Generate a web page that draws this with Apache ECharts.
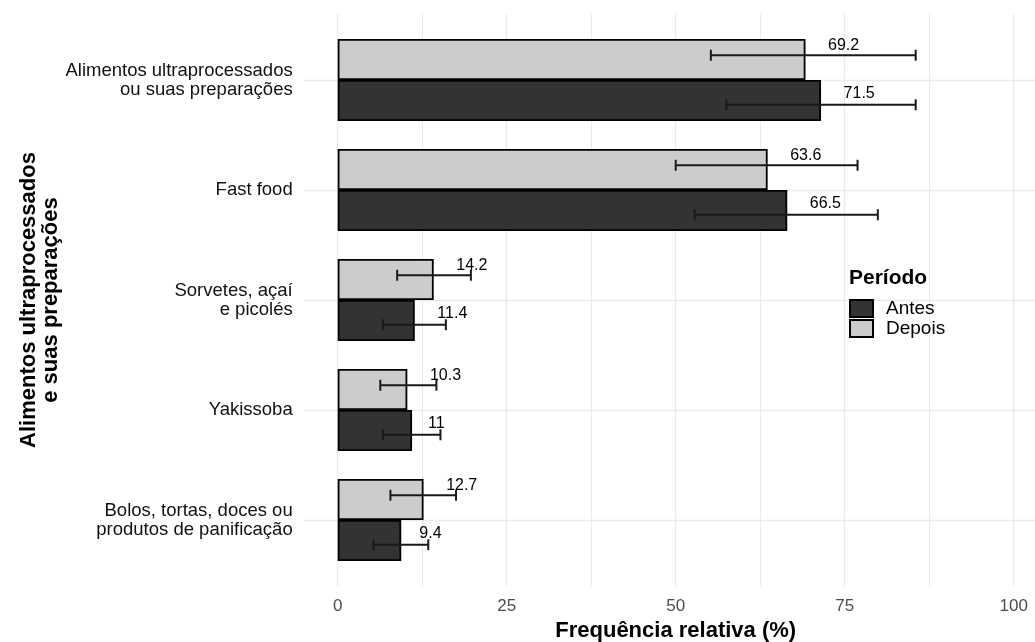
<!DOCTYPE html>
<html><head><meta charset="utf-8">
<script src="https://cdn.jsdelivr.net/npm/echarts@6/dist/echarts.min.js"></script>
<style>html,body{margin:0;padding:0;background:#fff}#c{width:1035px;height:642px}</style>
</head><body><div id="c"></div>
<script>
const categories = ['Alimentos ultraprocessados\nou suas preparações', 'Fast food', 'Sorvetes, açaí\ne picolés', 'Yakissoba', 'Bolos, tortas, doces ou\nprodutos de panificação'];
const antes = [71.5, 66.5, 11.4, 11, 9.4];
const depois = [69.2, 63.6, 14.2, 10.3, 12.7];
const antesLow = [57.5, 52.8, 6.7, 6.7, 5.3];
const antesHigh = [85.5, 79.9, 16.0, 15.2, 13.4];
const depoisLow = [55.2, 50.0, 8.8, 6.3, 7.8];
const depoisHigh = [85.5, 76.9, 19.7, 14.6, 17.5];
const xTicks = [0, 25, 50, 75, 100];

const FONT = '"Liberation Sans", Arial, sans-serif';
const chart = echarts.init(document.getElementById('c'));

function labelDist(v) {
  let w = 0;
  for (const ch of String(v)) w += ch === '.' ? 4.45 : 8.9;
  return 7 + w / 2;
}
function barData(vals) {
  return vals.map(v => ({ value: v, label: { distance: labelDist(v) } }));
}
function errData(lo, hi) {
  return lo.map((l, i) => [i, l, hi[i]]);
}
function errRender(offset) {
  return function (params, api) {
    const c = api.value(0);
    const a = api.coord([api.value(1), c]);
    const b = api.coord([api.value(2), c]);
    const y = a[1] + offset, h = 5.5;
    const st = { stroke: '#1a1a1a', lineWidth: 2 };
    return { type: 'group', children: [
      { type: 'line', shape: { x1: a[0], y1: y, x2: b[0], y2: y }, style: st },
      { type: 'line', shape: { x1: a[0], y1: y - h, x2: a[0], y2: y + h }, style: st },
      { type: 'line', shape: { x1: b[0], y1: y - h, x2: b[0], y2: y + h }, style: st }
    ]};
  };
}
const gridColor = '#EBEBEB';
const option = {
  backgroundColor: '#fff',
  animation: false,
  title: { text: 'Período', left: 849, top: 268, padding: 0,
    textStyle: { fontFamily: FONT, fontSize: 21, fontWeight: 'bold', color: '#000' } },
  legend: {
    data: ['Antes', 'Depois'], orient: 'vertical', left: 849, top: 299, padding: 0,
    itemWidth: 23, itemHeight: 17, itemGap: 1, icon: 'rect',
    textStyle: { fontFamily: FONT, fontSize: 19, color: '#000', lineHeight: 17, padding: [0, 0, 0, 8] }
  },
  graphic: [{
    type: 'text', x: 40, y: 300, rotation: Math.PI / 2,
    style: { text: 'Alimentos ultraprocessados\ne suas preparações', align: 'center', verticalAlign: 'middle',
      font: 'bold 22px ' + FONT, lineHeight: 22, fill: '#000' }
  }],
  grid: [
    { left: 337.7, width: 676, top: 14, height: 572, outerBoundsMode: 'none', containLabel: false },
    { left: 304, width: 731, top: 80, height: 440, outerBoundsMode: 'none', containLabel: false },
    { left: 337.7, width: 676, top: 25, height: 550, outerBoundsMode: 'none', containLabel: false }
  ],
  xAxis: [
    { gridIndex: 0, type: 'value', min: xTicks[0], max: xTicks[xTicks.length - 1], interval: xTicks[1] - xTicks[0],
      axisLine: { show: false }, axisTick: { show: false },
      minorTick: { show: false, splitNumber: 2 },
      splitLine: { show: true, lineStyle: { color: gridColor, width: 1.3 } },
      minorSplitLine: { show: true, lineStyle: { color: gridColor, width: 1 } },
      axisLabel: { margin: 12, color: '#4D4D4D', fontSize: 17, fontFamily: FONT },
      name: 'Frequência relativa (%)', nameLocation: 'middle', nameGap: 34,
      nameTextStyle: { fontFamily: FONT, fontSize: 22, fontWeight: 'bold', color: '#000' } },
    { gridIndex: 1, type: 'value', show: false, min: 0, max: 1 },
    { gridIndex: 2, type: 'value', show: false, min: 0, max: 100 }
  ],
  yAxis: [
    { gridIndex: 0, type: 'value', show: false },
    { gridIndex: 1, type: 'value', min: 0, max: categories.length - 1, interval: 1,
      axisLine: { show: false }, axisTick: { show: false }, axisLabel: { show: false },
      splitLine: { show: true, lineStyle: { color: gridColor, width: 1.3 } } },
    { gridIndex: 2, type: 'category', data: categories, inverse: true,
      axisLine: { show: false }, axisTick: { show: false }, splitLine: { show: false },
      axisLabel: { margin: 45, color: '#111', fontSize: 18.5, fontFamily: FONT, lineHeight: 19, align: 'right' } }
  ],
  series: [
    { name: 'Depois', type: 'bar', xAxisIndex: 2, yAxisIndex: 2, data: barData(depois),
      barWidth: 41, barGap: '0%', z: 2,
      itemStyle: { color: '#CCCCCC', borderColor: '#000', borderWidth: 1.8 },
      label: { show: true, position: 'right', offset: [0, -14], formatter: p => String(p.value),
        fontFamily: FONT, fontSize: 16, color: '#000' } },
    { name: 'Antes', type: 'bar', xAxisIndex: 2, yAxisIndex: 2, data: barData(antes),
      barWidth: 41, barGap: '0%', z: 2,
      itemStyle: { color: '#333333', borderColor: '#000', borderWidth: 1.8 },
      label: { show: true, position: 'right', offset: [0, -6.5], formatter: p => String(p.value),
        fontFamily: FONT, fontSize: 16, color: '#000' } },
    { name: 'errDepois', type: 'custom', xAxisIndex: 2, yAxisIndex: 2, z: 4,
      renderItem: errRender(-24.75), encode: { x: [1, 2], y: 0 }, data: errData(depoisLow, depoisHigh) },
    { name: 'errAntes', type: 'custom', xAxisIndex: 2, yAxisIndex: 2, z: 4,
      renderItem: errRender(24.75), encode: { x: [1, 2], y: 0 }, data: errData(antesLow, antesHigh) }
  ]
};
chart.setOption(option);
</script></body></html>
